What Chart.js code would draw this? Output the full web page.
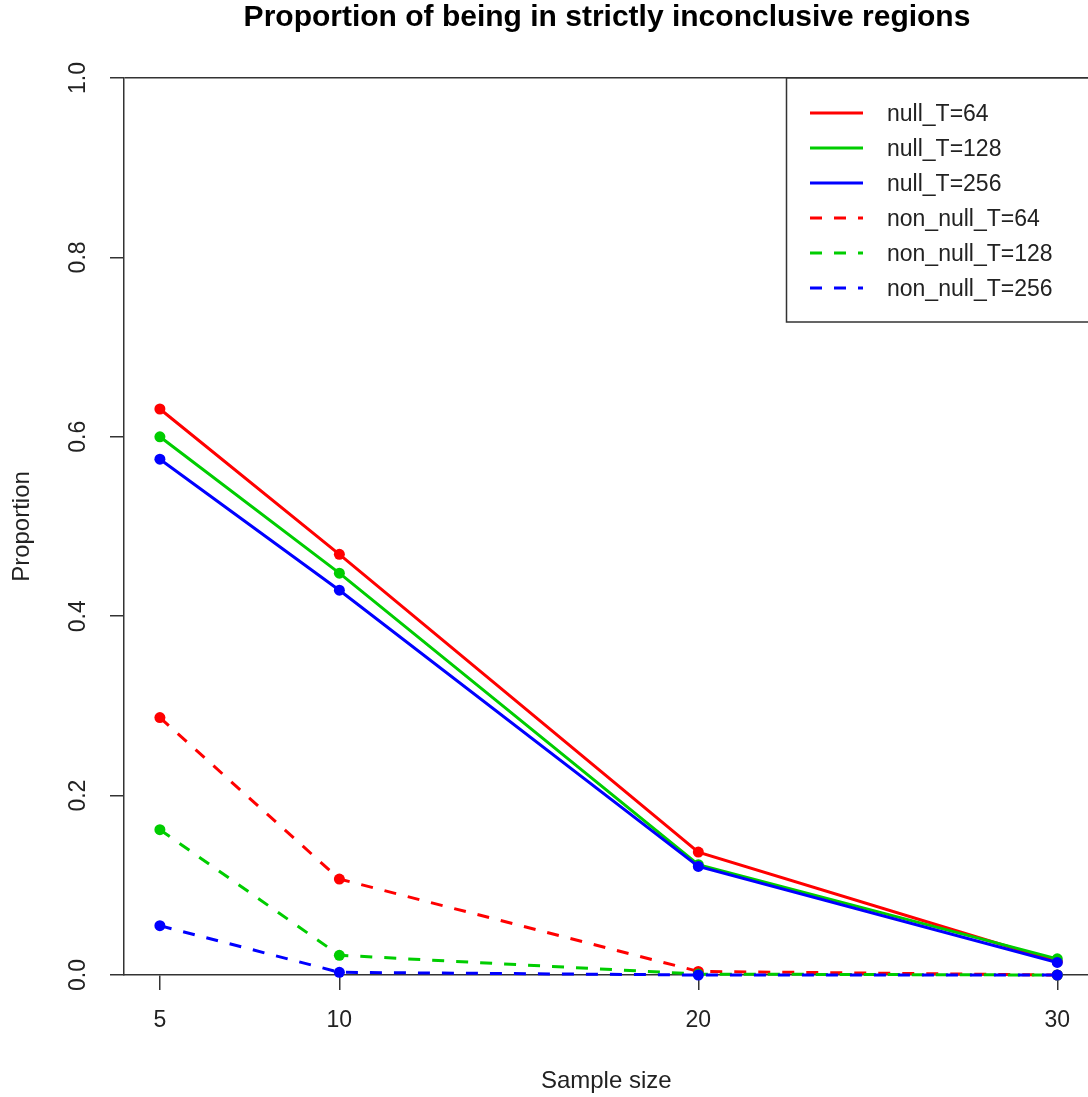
<!DOCTYPE html>
<html>
<head>
<meta charset="utf-8">
<script src="https://cdn.jsdelivr.net/npm/chart.js@4.4.1/dist/chart.umd.min.js"></script>
<style>
  html, body { margin: 0; padding: 0; background: #fff; overflow: hidden; }
  canvas { display: block; }
</style>
</head>
<body>
<canvas id="chart" width="1094" height="1097"></canvas>
<script>
const sampleSizes = [5, 10, 20, 30];
const yTicks = [0, 0.2, 0.4, 0.6, 0.8, 1.0];

const seriesLabels = ['null_T=64', 'null_T=128', 'null_T=256', 'non_null_T=64', 'non_null_T=128', 'non_null_T=256'];
const nullT64 = [0.631, 0.469, 0.137, 0.015];
const nullT128 = [0.600, 0.448, 0.123, 0.018];
const nullT256 = [0.575, 0.429, 0.121, 0.014];
const nonNullT64 = [0.287, 0.107, 0.004, 0.000];
const nonNullT128 = [0.162, 0.022, 0.001, 0.000];
const nonNullT256 = [0.055, 0.003, 0.000, 0.000];

const seriesValues = [nullT64, nullT128, nullT256, nonNullT64, nonNullT128, nonNullT256];
const seriesColors = ['#ff0000', '#00cd00', '#0000ff', '#ff0000', '#00cd00', '#0000ff'];

const FONT = '"Liberation Sans", Arial, sans-serif';
const AXIS = '#333';

const datasets = seriesLabels.map((label, i) => ({
    label: label,
    data: sampleSizes.map((x, j) => ({ x: x, y: seriesValues[i][j] })),
    borderColor: seriesColors[i],
    backgroundColor: seriesColors[i],
    borderWidth: 3,
    borderDash: i >= 3 ? [12, 12] : [],
    pointRadius: 5.5,
    pointHoverRadius: 5.5,
    pointBorderWidth: 0,
    tension: 0,
    clip: 8,
    order: 5 - i
}));

// R-style pieces: title, rotated y labels, legend box
const rDecor = {
    id: 'rDecor',
    afterDraw(chart) {
        const ctx = chart.ctx;
        const ys = chart.scales.y;

        ctx.save();
        ctx.fillStyle = '#000';
        ctx.font = 'bold 30px ' + FONT;
        ctx.textAlign = 'center';
        ctx.textBaseline = 'middle';
        ctx.fillText('Proportion of being in strictly inconclusive regions', 607, 18);

        ctx.font = '23px ' + FONT;
        ctx.fillStyle = '#222';
        ys.ticks.forEach(t => {
            const py = ys.getPixelForValue(t.value);
            ctx.save();
            ctx.translate(79, py);
            ctx.rotate(-Math.PI / 2);
            ctx.fillText(t.value.toFixed(1), 0, 0);
            ctx.restore();
        });

        // legend
        const bx = 786.5, by = 78, bw = chart.width - 786, bh = 244;
        ctx.fillStyle = '#fff';
        ctx.fillRect(bx, by, bw, bh);
        ctx.strokeStyle = AXIS;
        ctx.lineWidth = 1.5;
        ctx.strokeRect(bx, by, bw + 5, bh);
        ctx.textAlign = 'left';
        chart.data.datasets.forEach((ds, i) => {
            const ry = 113 + i * 35;
            ctx.beginPath();
            ctx.strokeStyle = ds.borderColor;
            ctx.lineWidth = ds.borderWidth;
            ctx.setLineDash(ds.borderDash);
            ctx.moveTo(810, ry);
            ctx.lineTo(863, ry);
            ctx.stroke();
            ctx.setLineDash([]);
            ctx.fillStyle = '#222';
            ctx.fillText(ds.label, 887, ry + 2);
        });
        ctx.restore();
    }
};

new Chart(document.getElementById('chart'), {
    type: 'line',
    data: { datasets: datasets },
    plugins: [rDecor],
    options: {
        responsive: false,
        animation: false,
        layout: { padding: { top: 78, right: 0, left: 0, bottom: 0 } },
        plugins: {
            legend: { display: false },
            title: { display: false },
            tooltip: { enabled: false }
        },
        scales: {
            x: {
                type: 'linear',
                min: 4,
                max: 30.87,
                afterBuildTicks: s => { s.ticks = sampleSizes.map(v => ({ value: v })); },
                afterFit: s => { s.height = 122; s.paddingLeft = 0; s.paddingRight = 0; },
                ticks: {
                    color: '#222',
                    font: { family: FONT, size: 23 },
                    padding: 17,
                    maxRotation: 0,
                    autoSkip: false
                },
                grid: { drawOnChartArea: false, color: AXIS, tickLength: 15, lineWidth: 1.5 },
                border: { display: true, color: AXIS, width: 1.5 },
                title: {
                    display: true,
                    text: 'Sample size',
                    color: '#222',
                    font: { family: FONT, size: 24 },
                    padding: { top: 0, bottom: 1 }
                }
            },
            y: {
                min: 0,
                max: 1,
                afterBuildTicks: s => { s.ticks = yTicks.map(v => ({ value: v })); },
                afterFit: s => { s.width = 124; s.paddingTop = 0; s.paddingBottom = 0; },
                ticks: { display: false },
                grid: {
                    color: c => (c.tick && c.tick.value === 1) ? AXIS : 'rgba(0,0,0,0)',
                    tickColor: AXIS,
                    tickLength: 14,
                    lineWidth: 1.5
                },
                border: { display: true, color: AXIS, width: 1.5 },
                title: {
                    display: true,
                    text: 'Proportion',
                    color: '#222',
                    font: { family: FONT, size: 24 },
                    padding: { top: 8, bottom: 0 }
                }
            }
        }
    }
});
</script>
</body>
</html>
